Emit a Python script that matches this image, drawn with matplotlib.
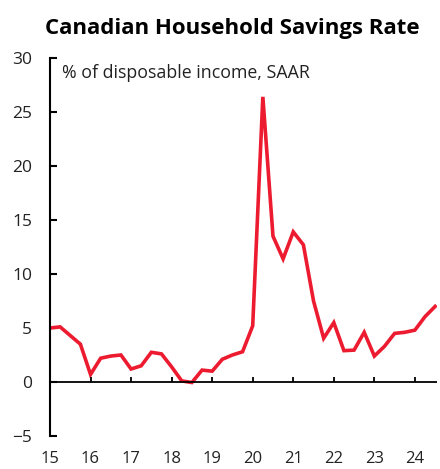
import numpy as np
import matplotlib.pyplot as plt

plt.rcParams['font.family'] = ['Open Sans', 'DejaVu Sans']

# quarterly savings rate, 2015Q1 .. 2024Q3 (% of disposable income, SAAR)
quarters = np.arange(2015, 2024.75, 0.25) - 2000
savings = [5.0, 5.1, 4.3, 3.5,
           0.7, 2.2, 2.4, 2.5,
           1.2, 1.5, 2.75, 2.6,
           1.4, 0.1, -0.05, 1.1,
           1.0, 2.1, 2.5, 2.8,
           5.2, 26.4, 13.5, 11.4,
           13.9, 12.7, 7.5, 4.05,
           5.5, 2.9, 2.95, 4.6,
           2.4, 3.3, 4.5, 4.6,
           4.8, 6.05, 7.0]
years = list(range(15, 25))
yticks = [-5, 0, 5, 10, 15, 20, 25, 30]

fig = plt.figure(figsize=(4.4, 4.69), dpi=100)
ax = fig.add_axes([0.1136, 0.0704, 0.88, 0.806])

ax.plot(quarters, savings, color='#ED1B2F', lw=2.6, solid_joinstyle='miter')

# zero line with year ticks
ax.axhline(0, color='black', lw=1.3)
ax.vlines(years, 0, 0.5, color='black', lw=1.3)

ax.set_xlim(15, 24.55)
ax.set_ylim(-5, 30)
ax.set_xticks(years)
ax.set_xticklabels([str(y) for y in years])
ax.set_yticks(yticks)

for s in ['top', 'right', 'bottom']:
    ax.spines[s].set_visible(False)
ax.spines['left'].set_linewidth(1.5)
ax.spines['left'].set_bounds(-5, 30)

ax.tick_params(axis='x', length=0, pad=11, labelsize=12, colors='#222222')
ax.tick_params(axis='y', direction='in', length=5, width=1.5, pad=13,
               labelsize=12.5, colors='black', labelcolor='#222222')

ax.text(0.03, 0.985, '% of disposable income, SAAR', transform=ax.transAxes,
        ha='left', va='top', fontsize=12.8, color='#222222')

fig.text(0.529, 0.94, 'Canadian Household Savings Rate', ha='center',
         va='center', fontsize=16, fontweight='bold', color='black')

fig.savefig('out.png', dpi=100)
